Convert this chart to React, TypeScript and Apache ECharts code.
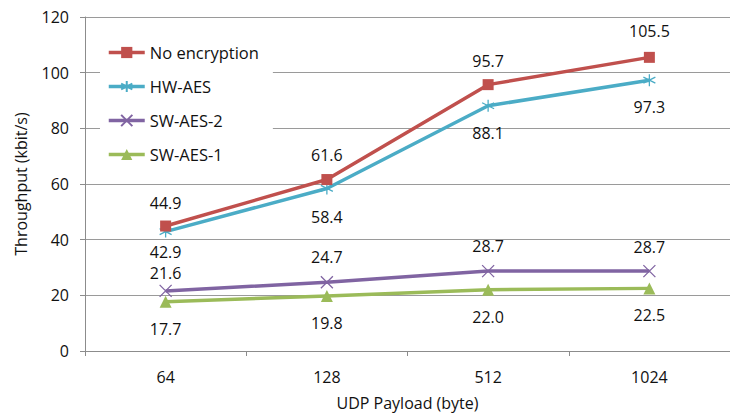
import React, { useEffect, useRef } from "react";
import * as echarts from "echarts";

const categories = ["64", "128", "512", "1024"];
const seriesNames = ["No encryption", "HW-AES", "SW-AES-2", "SW-AES-1"];
const noEncryption = [44.9, 61.6, 95.7, 105.5];
const hwAes = [42.9, 58.4, 88.1, 97.3];
const swAes2 = [21.6, 24.7, 28.7, 28.7];
const swAes1 = [17.7, 19.8, 22.0, 22.5];
const yTicks = { min: 0, max: 120, interval: 20 };

// styling (label vertical offsets relative to point, in px)
const labelOffsets = [
  [-23, -25, -24, -26],
  [20, 29, 27, 27],
  [-18, -25, -25, -24],
  [27, 27, 27, 27],
];
const colors = ["#C0504D", "#4BACC6", "#8064A2", "#9BBB59"];
const symbols = [
  "rect",
  "path://M5 0L5 10M0.67 2.5L9.33 7.5M0.67 7.5L9.33 2.5",
  "path://M0 0L10 10M0 10L10 0",
  "triangle",
];
const symbolSizes = [11, 12, 12, 12];
const FONT = "'Open Sans', sans-serif";

export default function App() {
  const ref = useRef<HTMLDivElement>(null);
  useEffect(() => {
    if (!ref.current) return;
    const chart = echarts.init(ref.current, undefined, { renderer: "svg" });
    const datasets = [noEncryption, hwAes, swAes2, swAes1];
    const series = datasets.map((arr, si) => ({
      name: seriesNames[si],
      type: "line",
      data: arr.map((v, i) => ({
        value: v,
        label: { offset: [0, labelOffsets[si][i]] },
      })),
      symbol: symbols[si],
      symbolSize: symbolSizes[si],
      lineStyle: { color: colors[si], width: 3.5 },
      itemStyle: {
        color: colors[si],
        borderColor: colors[si],
        borderWidth: si === 1 || si === 2 ? 1.3 : 0,
      },
      label: {
        show: true,
        position: "inside",
        color: "#111",
        fontSize: 16,
        fontFamily: FONT,
        formatter: (p: any) => Number(p.value).toFixed(1),
      },
      emphasis: { disabled: true },
      z: 10 - si,
    }));
    chart.setOption({
      animation: false,
      textStyle: { fontFamily: FONT },
      grid: { left: 85, top: 17, width: 656, height: 334, containLabel: false },
      legend: {
        orient: "vertical",
        left: 100,
        top: 34,
        padding: [10, 14, 10, 7],
        itemGap: 17,
        itemWidth: 36,
        itemHeight: 14,
        backgroundColor: "#fff",
        data: seriesNames,
        lineStyle: { width: 3.5 },
        textStyle: { fontSize: 16.5, color: "#111", fontFamily: FONT, lineHeight: 14 },
      },
      xAxis: {
        type: "category",
        data: categories,
        boundaryGap: true,
        name: "UDP Payload (byte)",
        nameLocation: "middle",
        nameGap: 44,
        nameTextStyle: { fontSize: 16, color: "#111", fontFamily: FONT },
        axisLine: { lineStyle: { color: "#8c8c8c", width: 1 } },
        axisTick: { show: true, length: 5, alignWithLabel: false, lineStyle: { color: "#8c8c8c" } },
        axisLabel: { fontSize: 16, color: "#111", margin: 18, fontFamily: FONT },
        splitLine: { show: false },
      },
      yAxis: {
        type: "value",
        min: yTicks.min,
        max: yTicks.max,
        interval: yTicks.interval,
        name: "Throughput (kbit/s)",
        nameLocation: "middle",
        nameGap: 56,
        nameTextStyle: { fontSize: 16, color: "#111", fontFamily: FONT },
        axisLine: { show: true, lineStyle: { color: "#8c8c8c", width: 1 } },
        axisTick: { show: true, length: 5, lineStyle: { color: "#8c8c8c" } },
        axisLabel: { fontSize: 16, color: "#111", margin: 16, fontFamily: FONT },
        splitLine: { show: true, lineStyle: { color: "#9a9a9a", width: 1 } },
      },
      series,
    });
    return () => chart.dispose();
  }, []);
  return <div ref={ref} style={{ width: 730, height: 417, position: "absolute", left: 0, top: 0 }} />;
}
